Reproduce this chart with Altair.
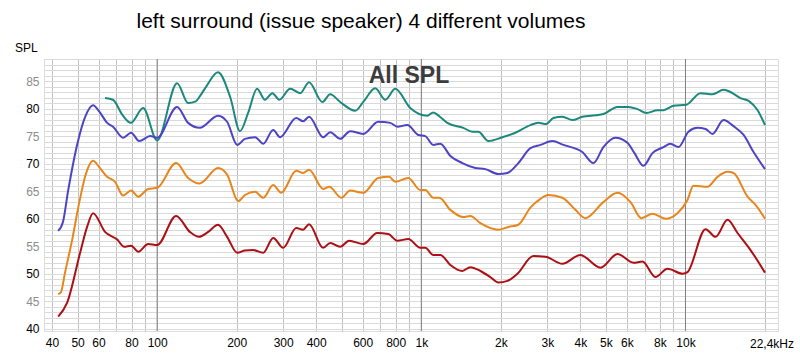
import altair as alt
import pandas as pd

# (frequency Hz, SPL dB)
teal = [(63.5, 81.9), (68, 81.6), (74, 78.8), (79.5, 77.4), (88.5, 80.1), (100, 74.2), (119, 84.6),
        (131, 81.0), (140, 81.3), (145, 82.2), (152, 83.7), (170, 86.6), (189, 82.1), (206, 75.9),
        (221, 79.2), (239, 83.6), (256, 81.6), (273, 82.8), (290, 81.6), (319, 83.6), (348, 82.8),
        (376, 84.8), (422, 81.2), (452, 82.6), (493, 81.2), (562, 79.6), (603, 81.2), (669, 83.7),
        (731, 81.6), (797, 83.6), (908, 80.1), (1054, 78.7), (1110, 79.3), (1170, 78.6), (1254, 77.4),
        (1442, 76.5), (1560, 75.8), (1644, 75.8), (1794, 74.1), (2028, 74.8), (2270, 75.6), (2588, 77.0),
        (2774, 77.4), (2974, 77.2), (3162, 78.3), (3420, 78.5), (3733, 77.9), (4070, 78.5), (4560, 78.8),
        (4889, 79.0), (5525, 80.3), (6086, 80.3), (6577, 79.9), (7118, 79.2), (7834, 79.7), (8254, 79.7),
        (9011, 80.5), (10080, 80.7), (11398, 82.8), (12648, 82.6), (13936, 83.4), (15068, 82.8),
        (16144, 81.9), (17340, 81.4), (18750, 79.7), (20000, 77.0)]

blue = [(42.2, 57.8), (44, 59.4), (46, 65.0), (50, 73.8), (53.4, 78.5), (57.2, 80.6), (60.5, 79.4),
        (64.7, 77.4), (68.1, 76.7), (74.3, 74.7), (79.7, 75.6), (85.5, 74.1), (94.1, 75.0), (100, 74.7),
        (119, 80.3), (131, 77.4), (145, 76.5), (170, 78.7), (184, 77.6), (201, 73.4), (215, 74.5),
        (235, 74.8), (252, 73.6), (275, 76.1), (292, 74.8), (336, 78.3), (357, 77.7), (376, 78.5),
        (425, 74.8), (452, 75.7), (493, 74.5), (538, 75.9), (603, 75.4), (687, 77.6), (763, 77.4),
        (811, 76.7), (885, 77.0), (975, 75.2), (1035, 75.0), (1110, 73.4), (1180, 73.6), (1288, 71.4),
        (1430, 70.1), (1602, 69.2), (1747, 69.0), (1958, 68.1), (2118, 68.3), (2330, 70.1), (2588, 72.8),
        (2825, 73.4), (3134, 74.1), (3451, 73.4), (4070, 72.1), (4483, 70.1), (4889, 73.0), (5432, 74.7),
        (6030, 73.8), (6413, 71.9), (6933, 69.6), (7500, 71.9), (8254, 73.0), (8767, 73.6), (9403, 73.0),
        (10265, 75.8), (11092, 76.5), (11912, 76.3), (12648, 75.4), (13936, 77.9), (15201, 76.8),
        (16596, 75.2), (18100, 72.1), (20000, 69.0)]

orange = [(42.2, 46.3), (43.2, 46.6), (44.8, 50.2), (47.7, 56.2), (50.5, 62.5), (53.5, 67.8), (57.2, 70.5),
          (60.5, 69.3), (64.7, 67.6), (69.3, 66.7), (74.3, 64.2), (79.7, 65.1), (84.8, 64.0), (92.5, 65.4),
          (100, 65.6), (118, 70.1), (131, 67.4), (145, 66.4), (170, 69.2), (184, 68.0), (203, 63.2),
          (215, 64.3), (235, 64.9), (252, 63.8), (275, 66.1), (295, 64.7), (336, 68.7), (357, 68.3),
          (376, 68.9), (425, 65.4), (448, 65.8), (498, 63.8), (538, 65.1), (603, 64.7), (687, 67.4),
          (756, 67.6), (797, 66.7), (893, 67.4), (991, 65.2), (1035, 65.2), (1110, 63.8), (1170, 63.8),
          (1288, 61.6), (1442, 60.3), (1533, 60.5), (1673, 59.2), (1958, 58.0), (2136, 58.5), (2330, 58.9),
          (2588, 62.0), (2825, 63.6), (3027, 64.3), (3420, 63.8), (3831, 61.6), (4180, 60.1), (4889, 63.0),
          (5525, 64.7), (6194, 63.0), (6810, 60.1), (7500, 60.9), (8398, 60.0), (9326, 61.0), (10177, 63.4),
          (10715, 66.0), (12110, 65.8), (13220, 67.6), (14424, 68.5), (15201, 68.3), (17180, 64.0),
          (18420, 62.5), (20000, 60.0)]

red = [(42.2, 42.2), (45.6, 44.7), (51.1, 53.8), (54.3, 58.5), (57.2, 61.0), (63.5, 57.6), (70.6, 56.2),
       (75, 54.9), (79.7, 55.1), (84.8, 54.0), (92.5, 55.4), (100, 55.2), (118, 60.5), (133, 57.6),
       (144, 56.7), (156, 57.6), (170, 58.9), (184, 56.7), (201, 53.8), (215, 54.2), (231, 54.3),
       (252, 53.8), (275, 56.5), (300, 54.7), (336, 58.3), (357, 58.0), (376, 59.0), (425, 54.7),
       (452, 55.6), (493, 54.9), (533, 56.0), (603, 55.4), (681, 57.4), (750, 57.2), (811, 56.0),
       (893, 56.3), (991, 54.7), (1035, 54.7), (1110, 53.4), (1180, 53.4), (1288, 51.6), (1430, 50.5),
       (1533, 51.2), (1673, 50.5), (1824, 49.4), (1958, 48.4), (2118, 48.7), (2311, 50.0), (2655, 53.2),
       (2951, 53.1), (3420, 51.8), (4001, 53.4), (4764, 51.1), (5525, 53.6), (6357, 52.0), (6870, 52.2),
       (7696, 49.4), (8548, 50.9), (9754, 50.0), (10177, 50.3), (11912, 58.1), (12995, 56.7),
       (14424, 59.8), (15738, 57.4), (17630, 54.3), (20000, 50.2)]

series_names = ["vol1", "vol2", "vol3", "vol4"]
series_colors = ["#1a887c", "#4c44c4", "#e8861c", "#ac1014"]

x_grid = [40, 50, 60, 70, 80, 90, 100, 200, 300, 400, 500, 600, 700, 800, 900,
          1000, 2000, 3000, 4000, 5000, 6000, 7000, 8000, 9000, 10000, 20000]
x_decades = [100, 1000, 10000]
x_labeled = [40, 50, 60, 80, 100, 200, 300, 400, 600, 800]
x_labeled_k = [1000, 2000, 3000, 4000, 5000, 6000, 8000, 10000]
y_grid = list(range(40, 90))

title_text = "left surround (issue speaker) 4 different volumes"

rows = []
for name, pts in zip(series_names, [teal, blue, orange, red]):
    for f, v in pts:
        rows.append({"series": name, "freq": f, "spl": v})
df = pd.DataFrame(rows)

W, H = 734, 272
FONT = "Liberation Sans"
x_scale = alt.Scale(type="log", domain=[37.3, 22400])

x_expr = ("indexof(%s, datum.value) >= 0 ? datum.value : "
          "(indexof(%s, datum.value) >= 0 ? (datum.value/1000) + 'k' : '')") % (x_labeled, x_labeled_k)

lines = alt.Chart(df).mark_line(strokeWidth=2, interpolate="monotone").encode(
    x=alt.X("freq:Q", scale=x_scale,
            axis=alt.Axis(values=x_grid, labelExpr=x_expr, title=None, ticks=False, domain=False,
                          labelOverlap=False, labelFontSize=12, labelFont=FONT, labelColor="#000000",
                          labelPadding=6, gridColor="#c2c2c2", gridWidth=1)),
    y=alt.Y("spl:Q", scale=alt.Scale(domain=[39.6, 89.0], nice=False, zero=False),
            axis=alt.Axis(values=y_grid, labelExpr="datum.value % 5 === 0 ? datum.value : ''",
                          title=None, ticks=False, domain=False, labelFontSize=12, labelFont=FONT,
                          labelPadding=5,
                          labelColor={"condition": {"test": "datum.value % 10 === 0", "value": "#000000"},
                                      "value": "#8c8c8c"},
                          gridColor="#dadada", gridWidth=1)),
    color=alt.Color("series:N", scale=alt.Scale(domain=series_names, range=series_colors), legend=None),
)

decades = alt.Chart(pd.DataFrame({"f": x_decades})).mark_rule(color="#808080", strokeWidth=1).encode(
    x=alt.X("f:Q", scale=x_scale)
)

note = alt.Chart(pd.DataFrame({"t": ["All SPL"]})).mark_text(
    font=FONT, fontSize=23, fontWeight="bold", color="#3c3c3c", align="center", baseline="middle"
).encode(text="t:N", x=alt.value(365), y=alt.value(17))

spl = alt.Chart(pd.DataFrame({"t": ["SPL"]})).mark_text(
    font=FONT, fontSize=12, color="#000000", align="left", baseline="middle"
).encode(text="t:N", x=alt.value(-29), y=alt.value(-11))

khz = alt.Chart(pd.DataFrame({"t": ["22,4kHz"]})).mark_text(
    font=FONT, fontSize=12, color="#000000", align="center", baseline="middle"
).encode(text="t:N", x=alt.value(728), y=alt.value(285))

ttl = alt.Chart(pd.DataFrame({"t": [title_text]})).mark_text(
    font=FONT, fontSize=21, color="#000000", align="center", baseline="alphabetic"
).encode(text="t:N", x=alt.value(317), y=alt.value(-31))

chart = alt.layer(decades, lines, note, spl, khz, ttl).properties(
    width=W, height=H,
    autosize=alt.AutoSizeParams(type="none"),
    padding={"left": 44, "top": 59, "right": 22, "bottom": 24},
).configure_view(stroke="#a0a0a0", strokeWidth=2).configure(background="#ffffff")

chart.save("out.html", embed_options={"renderer": "svg", "actions": False})
